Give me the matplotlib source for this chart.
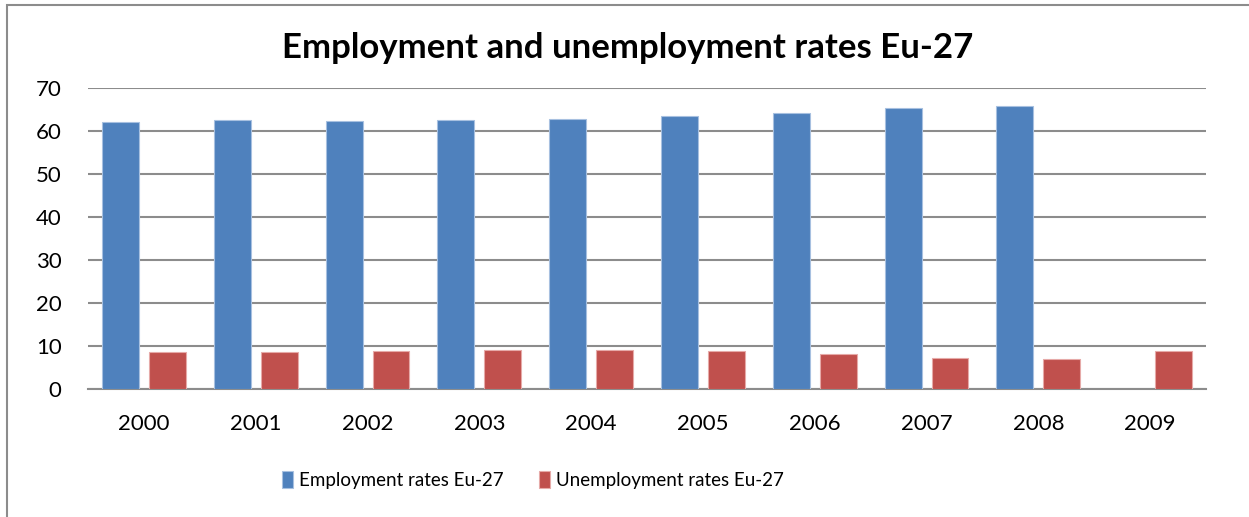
import matplotlib.pyplot as plt
import numpy as np
from matplotlib.patches import Rectangle

years = ['2000', '2001', '2002', '2003', '2004', '2005', '2006', '2007', '2008', '2009']
employment = [62.2, 62.5, 62.3, 62.5, 62.9, 63.4, 64.3, 65.3, 65.8, np.nan]
unemployment = [8.7, 8.5, 8.9, 9.0, 9.1, 8.9, 8.2, 7.1, 7.0, 8.9]

plt.rcParams['font.family'] = ['Lato', 'DejaVu Sans']

fig = plt.figure(figsize=(12.49, 5.17), dpi=100)
ax = fig.add_axes([0.0705, 0.2476, 0.8951, 0.5822])

# chart frame (only top and left edges fall inside the image)
fig.patches.append(Rectangle((7 / 1249, -0.1), 1.2, 1 - 5 / 517 + 0.1,
                             transform=fig.transFigure, fill=False,
                             edgecolor='#8c8c8c', linewidth=1.5))

x = np.arange(len(years))
w = 0.33
ax.bar(x - 0.21, employment, w, color='#4F81BD', edgecolor='#a7c0e0',
       linewidth=0.8, label='Employment rates Eu-27', zorder=3)
ax.bar(x + 0.21, unemployment, w, color='#C0504D', edgecolor='#e6aaa8',
       linewidth=0.8, label='Unemployment rates Eu-27', zorder=3)

ax.set_xlim(-0.5, len(years) - 0.5)
ax.set_ylim(0, 70)
ax.set_yticks(range(0, 71, 10))
ax.set_xticks(x)
ax.set_xticklabels(years)
ax.tick_params(axis='both', length=0, labelsize=16)
ax.tick_params(axis='x', pad=18)
ax.tick_params(axis='y', pad=19)
ax.yaxis.grid(True, color='#8c8c8c', linewidth=1.5, zorder=0)
ax.set_axisbelow(True)
for s in ['top', 'right', 'left']:
    ax.spines[s].set_visible(False)
ax.spines['bottom'].set_color('#8c8c8c')
ax.spines['bottom'].set_linewidth(1.5)

fig.text(628 / 1249, 1 - 48 / 517, 'Employment and unemployment rates Eu-27',
         ha='center', va='center', fontsize=25, fontweight='bold')

fig.legend(loc='center', bbox_to_anchor=(533 / 1249, 1 - 480 / 517), ncol=2,
           frameon=False, fontsize=13.5, handlelength=0.6, handleheight=1.0,
           handletextpad=0.3, columnspacing=1.9)

fig.savefig('out.png', dpi=100)
